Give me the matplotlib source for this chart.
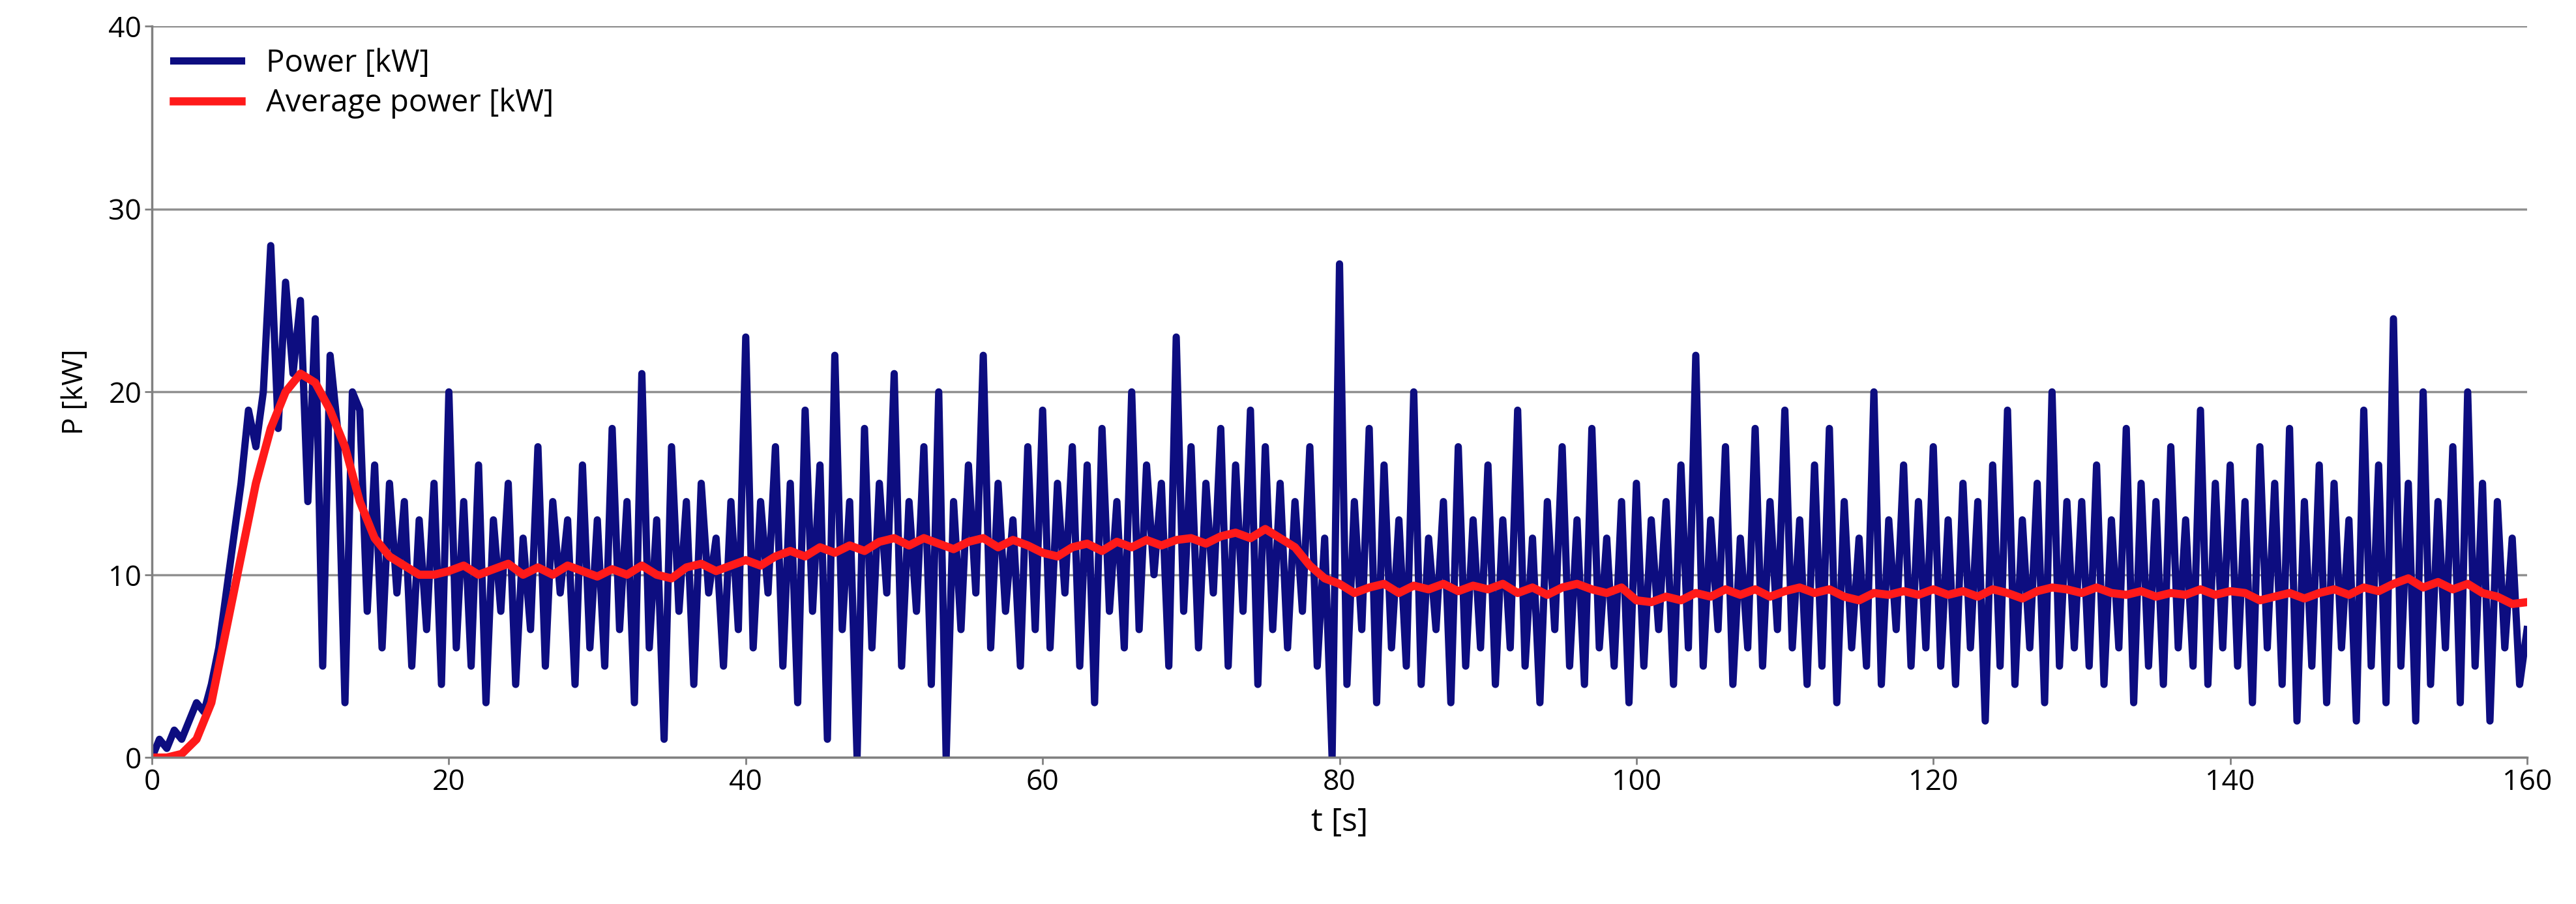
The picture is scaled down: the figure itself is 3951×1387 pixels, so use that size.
import numpy as np
import matplotlib
matplotlib.use("Agg")
import matplotlib.pyplot as plt

plt.rcParams['font.family'] = ['Open Sans', 'DejaVu Sans']

power = [0,1,0.5,1.5,1,2,3,2.5,4,6,9,12,15,19,17,20,28,18,26,21,
 25,14,24,5,22,18,3,20,19,8,16,6,15,9,14,5,13,7,15,4,
 20,6,14,5,16,3,13,8,15,4,12,7,17,5,14,9,13,4,16,6,
 13,5,18,7,14,3,21,6,13,1,17,8,14,4,15,9,12,5,14,7,
 23,6,14,9,17,5,15,3,19,8,16,1,22,7,14,0,18,6,15,9,
 21,5,14,8,17,4,20,0,14,7,16,9,22,6,15,8,13,5,17,7,
 19,6,15,9,17,5,16,3,18,8,14,6,20,7,16,10,15,5,23,8,
 17,6,15,9,18,5,16,8,19,4,17,7,15,6,14,8,17,5,12,0,
 27,4,14,7,18,3,16,6,13,5,20,4,12,7,14,3,17,5,13,6,
 16,4,13,6,19,5,12,3,14,7,17,5,13,4,18,6,12,5,14,3,
 15,5,13,7,14,4,16,6,22,5,13,7,17,4,12,6,18,5,14,7,
 19,6,13,4,16,5,18,3,14,6,12,5,20,4,13,7,16,5,14,6,
 17,5,13,4,15,6,14,2,16,5,19,4,13,6,15,3,20,5,14,6,
 14,5,16,4,13,6,18,3,15,5,14,4,17,6,13,5,19,4,15,6,
 16,5,14,3,17,6,15,4,18,2,14,5,16,3,15,6,13,2,19,5,
 16,3,24,5,15,2,20,4,14,6,17,3,20,5,15,2,14,6,12,4,7]
t_power = np.arange(len(power)) * 0.5

avg = [0,0,0.2,1,3,7,11,15,18,20,21,
 20.5,19,17,14,12,11,10.5,10,10,10.2,
 10.5,10,10.3,10.6,10,10.4,10,10.5,10.2,9.9,
 10.3,10,10.5,10,9.8,10.4,10.6,10.2,10.5,10.8,
 10.5,11,11.3,11,11.5,11.2,11.6,11.3,11.8,12,
 11.6,12,11.7,11.4,11.8,12,11.5,11.9,11.6,11.2,
 11,11.5,11.7,11.3,11.8,11.5,11.9,11.6,11.9,12,
 11.7,12.1,12.3,12,12.5,12,11.5,10.5,9.8,9.5,
 9,9.3,9.5,9,9.4,9.2,9.5,9.1,9.4,9.2,
 9.5,9,9.3,8.9,9.3,9.5,9.2,9,9.3,8.6,
 8.5,8.8,8.6,9,8.8,9.2,8.9,9.2,8.8,9.1,
 9.3,9,9.2,8.8,8.6,9,8.9,9.1,8.9,9.2,
 8.9,9.1,8.8,9.2,9,8.7,9.1,9.3,9.2,9,
 9.3,9,8.9,9.1,8.8,9,8.9,9.2,8.9,9.1,
 9,8.6,8.8,9,8.7,9,9.2,8.9,9.3,9.1,
 9.5,9.8,9.3,9.6,9.2,9.5,9,8.8,8.4,8.5]
t_avg = np.arange(len(avg)) * 1.0

fig = plt.figure(figsize=(39.51, 13.87), dpi=100)
ax = fig.add_axes([0.059, 0.162, 0.922, 0.809])
ax.plot(t_power, power, color='#0d0d80', lw=8, label='Power [kW]')
ax.plot(t_avg, avg, color='#ff1a1a', lw=9, label='Average power [kW]')
ax.set_xlim(0, 160)
ax.set_ylim(0, 40)
ax.set_xticks(range(0, 161, 20))
ax.set_yticks(range(0, 41, 10))
ax.yaxis.grid(True, color='#909090', lw=2.5)
ax.set_axisbelow(True)
for s in ['top', 'right']:
    ax.spines[s].set_visible(False)
for s in ['left', 'bottom']:
    ax.spines[s].set_color('#808080')
    ax.spines[s].set_linewidth(2.5)
ax.tick_params(labelsize=32, length=8, width=2, colors='#808080', labelcolor='black')
ax.set_xlabel('t [s]', fontsize=36, labelpad=10)
ax.set_ylabel('P [kW]', fontsize=32, labelpad=20)
ax.legend(loc='upper left', frameon=False, fontsize=34, handlelength=2.2,
          borderaxespad=0.3, labelspacing=0.3)
fig.savefig('out.png', dpi=100)
